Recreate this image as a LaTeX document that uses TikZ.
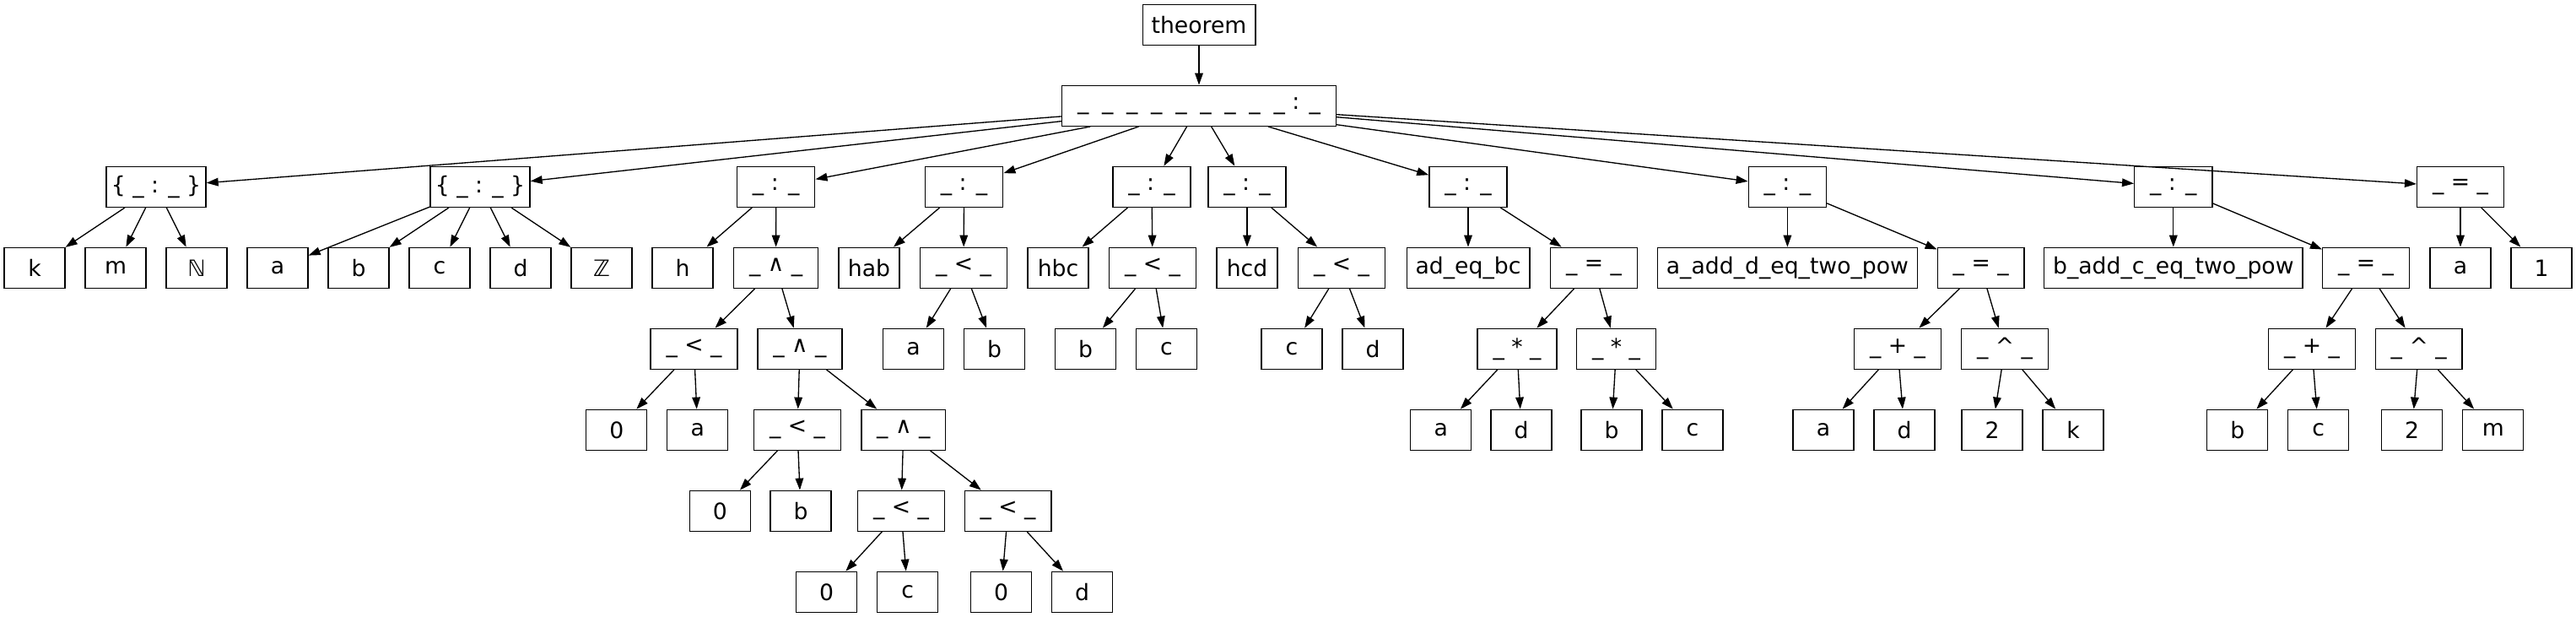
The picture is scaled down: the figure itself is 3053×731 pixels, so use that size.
\documentclass[tikz,border=0pt]{standalone}
\usepackage{fontspec}
\setmainfont{DejaVu Sans}
\usetikzlibrary{arrows.meta}

\begin{document}
\begin{tikzpicture}[
    x=0.75pt, y=-0.75pt,
    term/.style={draw, line width=1pt, minimum width=54pt, minimum height=36pt, inner xsep=7.8pt, font=\fontsize{20}{24}\selectfont},
    op/.style={term, inner xsep=13.8pt},
    setop/.style={term, inner xsep=4.4pt},
    arrow/.style={-{Triangle[length=10.5pt, width=7.2pt]}, line width=1pt}
]
\useasboundingbox (0,0) rectangle (3053,731);

% rows 0 and 1
\node[term] (thm) at (1421,29.3) {theorem};
\node[op] (root) at (1421,125.3) {\_\hspace{11.8pt}\_\hspace{11.8pt}\_\hspace{11.8pt}\_\hspace{11.8pt}\_\hspace{11.8pt}\_\hspace{11.8pt}\_\hspace{11.8pt}\_\hspace{11.8pt}\_ : \_};

% row 2
\node[setop] (setkm) at (185,221.3) {\{ \_ : \_ \}};
\node[setop] (setab) at (569,221.3) {\{ \_ : \_ \}};
\node[op] (colh) at (919.7,221.3) {\_ : \_};
\node[op] (colhab) at (1142.6,221.3) {\_ : \_};
\node[op] (colhbc) at (1365,221.3) {\_ : \_};
\node[op] (colhcd) at (1478,221.3) {\_ : \_};
\node[op] (coladbc) at (1740,221.3) {\_ : \_};
\node[op] (colad) at (2118.4,221.3) {\_ : \_};
\node[op] (colbc) at (2575.8,221.3) {\_ : \_};
\node[op] (eqaone) at (2916,221.3) {\_ = \_};

% row 3
\node[term] (k) at (41,317.3) {k};
\node[term] (m) at (137,317.3) {m};
\node[term] (nat) at (233,317.3) {ℕ};
\node[term] (va) at (329,317.3) {a};
\node[term] (vb) at (425,317.3) {b};
\node[term] (vc) at (521,317.3) {c};
\node[term] (vd) at (617,317.3) {d};
\node[term] (int) at (713,317.3) {ℤ};
\node[term] (h) at (809,317.3) {h};
\node[op] (andh) at (919.6,317.3) {\_ ∧ \_};
\node[term] (hab) at (1030,317.3) {hab};
\node[op] (ltab) at (1142,317.3) {\_ < \_};
\node[term] (hbc) at (1254,317.3) {hbc};
\node[op] (ltbc) at (1366,317.3) {\_ < \_};
\node[term] (hcd) at (1478,317.3) {hcd};
\node[op] (ltcd) at (1590,317.3) {\_ < \_};
\node[term] (adeqbc) at (1740,317.3) {ad\_eq\_bc};
\node[op] (eqmul) at (1889,317.3) {\_ = \_};
\node[term] (aaddd) at (2118.4,317.3) {a\_add\_d\_eq\_two\_pow};
\node[op] (eqad) at (2347.7,317.3) {\_ = \_};
\node[term] (baddc) at (2575.8,317.3) {b\_add\_c\_eq\_two\_pow};
\node[op] (eqbc) at (2804,317.3) {\_ = \_};
\node[term] (ea) at (2916,317.3) {a};
\node[term] (eone) at (3012,317.3) {1};

% row 4
\node[op] (ltza) at (822.5,413.3) {\_ < \_};
\node[op] (andb) at (948,413.3) {\_ ∧ \_};
\node[term] (aba) at (1082.5,413.3) {a};
\node[term] (abb) at (1178.5,413.3) {b};
\node[term] (bcb) at (1286.5,413.3) {b};
\node[term] (bcc) at (1382.4,413.3) {c};
\node[term] (cdc) at (1531,413.3) {c};
\node[term] (cdd) at (1627,413.3) {d};
\node[op] (mulad) at (1798,413.3) {\_ * \_};
\node[op] (mulbc) at (1915.6,413.3) {\_ * \_};
\node[op] (addad) at (2249,413.3) {\_ + \_};
\node[op] (powk) at (2376,413.3) {\_ \textasciicircum{} \_};
\node[op] (addbc) at (2740,413.3) {\_ + \_};
\node[op] (powm) at (2866.7,413.3) {\_ \textasciicircum{} \_};

% row 5
\node[term] (za) at (730.8,509.3) {0};
\node[term] (zaa) at (826.8,509.3) {a};
\node[op] (ltzb) at (945,509.3) {\_ < \_};
\node[op] (andc) at (1070.8,509.3) {\_ ∧ \_};
\node[term] (mada) at (1707.7,509.3) {a};
\node[term] (madd) at (1803,509.3) {d};
\node[term] (mbcb) at (1910,509.3) {b};
\node[term] (mbcc) at (2006,509.3) {c};
\node[term] (adda) at (2161,509.3) {a};
\node[term] (addd) at (2257,509.3) {d};
\node[term] (twok) at (2361,509.3) {2};
\node[term] (pk) at (2457,509.3) {k};
\node[term] (addb) at (2651.7,509.3) {b};
\node[term] (addc) at (2747.7,509.3) {c};
\node[term] (twom) at (2858.7,509.3) {2};
\node[term] (pm) at (2954.8,509.3) {m};

% row 6
\node[term] (zb) at (853.4,605.3) {0};
\node[term] (zbb) at (949,605.3) {b};
\node[op] (ltzc) at (1068,605.3) {\_ < \_};
\node[op] (ltzd) at (1194.6,605.3) {\_ < \_};

% row 7
\node[term] (zc) at (979.7,701.3) {0};
\node[term] (zcc) at (1075.7,701.3) {c};
\node[term] (zd) at (1186.6,701.3) {0};
\node[term] (zdd) at (1282.6,701.3) {d};

% edges
\draw[arrow] (thm) -- (root);
\draw[arrow] (root) -- (setkm);
\draw[arrow] (root) -- (setab);
\draw[arrow] (root) -- (colh);
\draw[arrow] (root) -- (colhab);
\draw[arrow] (root) -- (colhbc);
\draw[arrow] (root) -- (colhcd);
\draw[arrow] (root) -- (coladbc);
\draw[arrow] (root) -- (colad);
\draw[arrow] (root) -- (colbc);
\draw[arrow] (root) -- (eqaone);
\draw[arrow] (setkm) -- (k);
\draw[arrow] (setkm) -- (m);
\draw[arrow] (setkm) -- (nat);
\draw[arrow] (setab) -- (va);
\draw[arrow] (setab) -- (vb);
\draw[arrow] (setab) -- (vc);
\draw[arrow] (setab) -- (vd);
\draw[arrow] (setab) -- (int);
\draw[arrow] (colh) -- (h);
\draw[arrow] (colh) -- (andh);
\draw[arrow] (andh) -- (ltza);
\draw[arrow] (andh) -- (andb);
\draw[arrow] (ltza) -- (za);
\draw[arrow] (ltza) -- (zaa);
\draw[arrow] (andb) -- (ltzb);
\draw[arrow] (andb) -- (andc);
\draw[arrow] (ltzb) -- (zb);
\draw[arrow] (ltzb) -- (zbb);
\draw[arrow] (andc) -- (ltzc);
\draw[arrow] (andc) -- (ltzd);
\draw[arrow] (ltzc) -- (zc);
\draw[arrow] (ltzc) -- (zcc);
\draw[arrow] (ltzd) -- (zd);
\draw[arrow] (ltzd) -- (zdd);
\draw[arrow] (colhab) -- (hab);
\draw[arrow] (colhab) -- (ltab);
\draw[arrow] (ltab) -- (aba);
\draw[arrow] (ltab) -- (abb);
\draw[arrow] (colhbc) -- (hbc);
\draw[arrow] (colhbc) -- (ltbc);
\draw[arrow] (ltbc) -- (bcb);
\draw[arrow] (ltbc) -- (bcc);
\draw[arrow] (colhcd) -- (hcd);
\draw[arrow] (colhcd) -- (ltcd);
\draw[arrow] (ltcd) -- (cdc);
\draw[arrow] (ltcd) -- (cdd);
\draw[arrow] (coladbc) -- (adeqbc);
\draw[arrow] (coladbc) -- (eqmul);
\draw[arrow] (eqmul) -- (mulad);
\draw[arrow] (eqmul) -- (mulbc);
\draw[arrow] (mulad) -- (mada);
\draw[arrow] (mulad) -- (madd);
\draw[arrow] (mulbc) -- (mbcb);
\draw[arrow] (mulbc) -- (mbcc);
\draw[arrow] (colad) -- (aaddd);
\draw[arrow] (colad) -- (eqad);
\draw[arrow] (eqad) -- (addad);
\draw[arrow] (eqad) -- (powk);
\draw[arrow] (addad) -- (adda);
\draw[arrow] (addad) -- (addd);
\draw[arrow] (powk) -- (twok);
\draw[arrow] (powk) -- (pk);
\draw[arrow] (colbc) -- (baddc);
\draw[arrow] (colbc) -- (eqbc);
\draw[arrow] (eqbc) -- (addbc);
\draw[arrow] (eqbc) -- (powm);
\draw[arrow] (addbc) -- (addb);
\draw[arrow] (addbc) -- (addc);
\draw[arrow] (powm) -- (twom);
\draw[arrow] (powm) -- (pm);
\draw[arrow] (eqaone) -- (ea);
\draw[arrow] (eqaone) -- (eone);
\end{tikzpicture}
\end{document}
